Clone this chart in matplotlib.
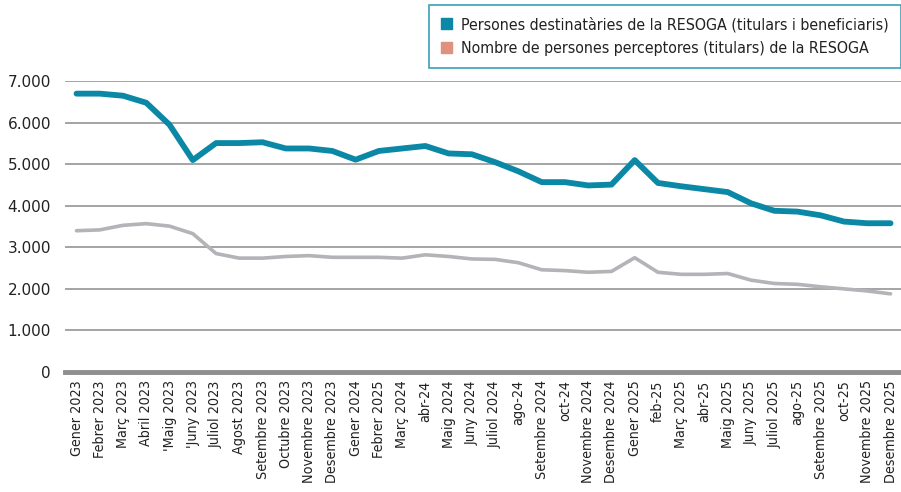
import matplotlib

matplotlib.use("Agg")
import matplotlib.pyplot as plt
from matplotlib import font_manager
from matplotlib.patches import Patch
from matplotlib.ticker import FuncFormatter

months = [
    "Gener 2023", "Febrer 2023", "Març 2023", "Abril 2023", "'Maig 2023", "'Juny 2023",
    "Juliol 2023", "Agost 2023", "Setembre 2023", "Octubre 2023", "Novembre 2023",
    "Desembre 2023", "Gener 2024", "Febrer 2025", "Març 2024", "abr-24", "Maig 2024",
    "Juny 2024", "Juliol 2024", "ago-24", "Setembre 2024", "oct-24", "Novembre 2024",
    "Desembre 2024", "Gener 2025", "feb-25", "Març 2025", "abr-25", "Maig 2025",
    "Juny 2025", "Juliol 2025", "ago-25", "Setembre 2025", "oct-25", "Novembre 2025",
    "Desembre 2025",
]
destinataries = [
    6700, 6700, 6650, 6480, 5950, 5100, 5510, 5510, 5530, 5380, 5380, 5320,
    5110, 5320, 5380, 5440, 5260, 5240, 5050, 4830, 4570, 4570, 4490, 4510,
    5100, 4550, 4470, 4400, 4330, 4060, 3880, 3860, 3770, 3620, 3580, 3580,
]
perceptores = [
    3400, 3420, 3530, 3570, 3510, 3330, 2850, 2740, 2740, 2780, 2800, 2760,
    2760, 2760, 2740, 2820, 2780, 2720, 2710, 2630, 2460, 2440, 2400, 2420,
    2750, 2400, 2350, 2350, 2370, 2210, 2130, 2110, 2050, 2000, 1950, 1880,
]
legend_labels = [
    "Persones destinatàries de la RESOGA (titulars i beneficiaris)",
    "Nombre de persones perceptores (titulars) de la RESOGA",
]

TEAL = "#0B88A6"
GREY = "#B3B3B8"
SALMON = "#E0907E"


def condensed(size):
    return font_manager.FontProperties(family="DejaVu Sans", stretch="condensed", size=size)


fig = plt.figure(figsize=(9.01, 4.92), dpi=100)
ax = fig.add_axes([0.072, 0.244, 0.928, 0.591])

x = list(range(len(months)))
ax.plot(x, perceptores, color=GREY, linewidth=2.6, solid_capstyle="round", zorder=3)
ax.plot(x, destinataries, color=TEAL, linewidth=4.2, solid_capstyle="round", zorder=4)

ax.set_ylim(0, 7000)
ax.set_xlim(-0.5, 35.45)
ax.set_yticks(range(0, 7001, 1000))
ax.yaxis.set_major_formatter(FuncFormatter(lambda v, p: f"{int(v):,}".replace(",", ".")))
ax.grid(axis="y", color="#8C8C8C", linewidth=1.1)
ax.set_axisbelow(True)

for side in ["top", "right", "left"]:
    ax.spines[side].set_visible(False)
ax.spines["bottom"].set_color("#8E8E8E")
ax.spines["bottom"].set_linewidth(3.5)

ax.set_xticks(x)
ax.set_xticklabels(months, rotation=90, color="#222222")
for lbl in ax.get_xticklabels():
    lbl.set_fontproperties(condensed(10.3))
ax.tick_params(axis="x", length=0, pad=6)
ax.tick_params(axis="y", length=0, labelsize=11, colors="#222222", pad=10)

handles = [Patch(color=TEAL), Patch(color=SALMON)]
leg = fig.legend(
    handles, legend_labels, loc="upper right", bbox_to_anchor=(1.0, 0.99),
    prop=condensed(11.4), frameon=True, fancybox=False,
    handlelength=0.7, handleheight=0.7, handletextpad=0.6,
    borderpad=0.75, labelspacing=0.55, borderaxespad=0,
)
leg.get_frame().set_edgecolor(TEAL)
leg.get_frame().set_linewidth(1.2)
for t in leg.get_texts():
    t.set_color("#222222")

fig.savefig("out.png", dpi=100)
